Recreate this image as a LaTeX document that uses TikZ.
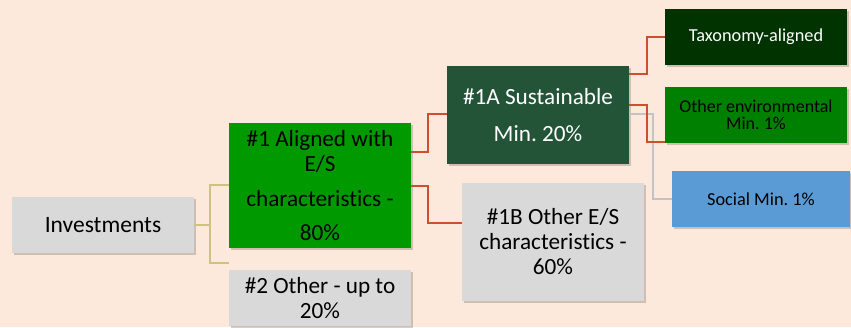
\documentclass[tikz,border=0pt]{standalone}
\usepackage{fontspec}
\setmainfont[Ligatures=NoCommon]{Carlito}
\usetikzlibrary{shadows}
\frenchspacing
\definecolor{bgc}{RGB}{252,233,219}
\definecolor{greyc}{RGB}{217,217,217}
\definecolor{greenA}{RGB}{0,153,0}
\definecolor{greenS}{RGB}{36,84,56}
\definecolor{greenT}{RGB}{0,51,0}
\definecolor{greenE}{RGB}{0,128,0}
\definecolor{blueS}{RGB}{91,155,213}
\definecolor{redc}{RGB}{205,80,45}
\definecolor{yelc}{RGB}{205,195,125}
\definecolor{gryl}{RGB}{195,195,195}
\begin{document}
\begin{tikzpicture}[x=1pt,y=-1pt,
  box/.style={rectangle, inner sep=0pt, align=center, minimum width=182pt,
    drop shadow={shadow xshift=1.5pt, shadow yshift=-1.5pt, opacity=0.18, fill=black}},
  bigt/.style={font=\fontsize{23.2}{25}\selectfont},
  smt/.style={font=\fontsize{18.3}{18}\selectfont},
  ycon/.style={draw=yelc, line width=1.8pt},
  rcon/.style={draw=redc, line width=1.8pt},
  gcon/.style={draw=gryl, line width=1.3pt}]
\fill[bgc] (0,0) rectangle (851,327);
\useasboundingbox (0,0) rectangle (851,327);
\node[box, fill=greyc, minimum height=56pt, font=\fontsize{23.5}{26}\selectfont] (inv) at (103,225) {Investments};
\node[box, fill=greenA, minimum height=125pt] (a1) at (320,185.5) {};
\node[bigt, align=center, inner sep=0pt] (a1t) at (a1.center) {\#1 Aligned with\\E/S\\[10pt]characteristics -\\[9pt]80\%};
\node[box, bigt, fill=greyc, minimum height=56pt] (o2) at (320,298) {\#2 Other - up to\\20\%};
\node[box, bigt, fill=greenS, text=white, minimum height=98pt] (s1a) at (538,115) {\#1A Sustainable\\[12pt]Min. 20\%};
\node[box, bigt, fill=greyc, minimum height=118pt] (o1b) at (553,242) {\#1B Other E/S\\characteristics -\\60\%};
\node[box, smt, fill=greenT, text=white, minimum height=56pt] (tax) at (756,37) {Taxonomy-aligned};
\node[box, fill=greenE, minimum height=56pt, font=\fontsize{18}{17.5}\selectfont] (env) at (756,115) {Other environmental\\Min. 1\%};
\node[box, smt, fill=blueS, minimum height=56pt, minimum width=178pt] (soc) at (761,199) {Social Min. 1\%};
% yellow connectors
\coordinate (j1) at (210,185);
\coordinate (j2) at (210,263);
\coordinate (e2) at (229,263);
\draw[ycon] (inv.east) -- (inv.east -| j1);
\draw[ycon] (a1.west |- j1) -- (j1) -- (j2) -- (e2);
% red from a1
\coordinate (r1) at (428,152);
\coordinate (r2) at (428,114);
\coordinate (r3) at (428,186);
\coordinate (r4) at (428,223);
\draw[rcon] (a1.east |- r1) -- (r1) -- (r2) -- (s1a.west |- r2);
\draw[rcon] (a1.east |- r3) -- (r3) -- (r4) -- (o1b.west |- r4);
% from s1a
\coordinate (q1) at (647,74);
\coordinate (q2) at (647,37);
\coordinate (q3) at (647,105);
\coordinate (q4) at (647,142);
\coordinate (g1) at (653,114);
\coordinate (g2) at (653,199);
\draw[gcon] (s1a.east |- g1) -- (g1) -- (g2) -- (soc.west);
\draw[rcon] (s1a.east |- q1) -- (q1) -- (q2) -- (tax.west);
\draw[rcon] (s1a.east |- q3) -- (q3) -- (q4) -- (env.west |- q4);
\end{tikzpicture}
\end{document}
